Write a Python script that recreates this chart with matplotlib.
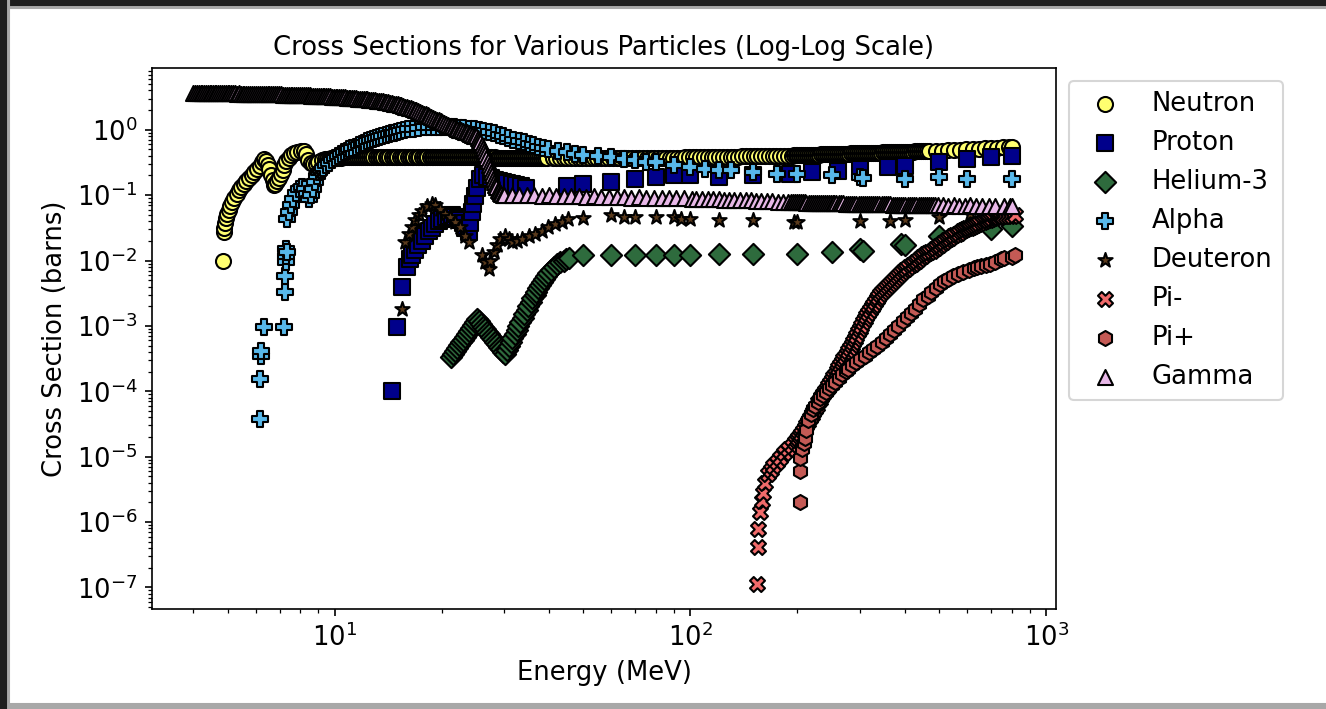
import matplotlib
matplotlib.use("Agg")
import matplotlib.pyplot as plt
from matplotlib.patches import Rectangle

# (energy MeV, cross section barns)
neutron = [
    (4.85, 0.0100), (4.88, 0.027), (4.90, 0.032), (4.92, 0.038), (4.95, 0.045), (4.99, 0.052),
    (5.04, 0.060), (5.09, 0.069), (5.15, 0.080), (5.22, 0.092), (5.30, 0.105), (5.38, 0.118),
    (5.47, 0.132), (5.56, 0.148), (5.65, 0.165), (5.75, 0.183), (5.85, 0.203), (5.95, 0.225),
    (6.05, 0.250), (6.15, 0.280), (6.25, 0.320), (6.32, 0.355), (6.40, 0.330), (6.48, 0.290),
    (6.56, 0.250), (6.63, 0.205), (6.69, 0.170), (6.75, 0.142), (6.82, 0.150), (6.90, 0.165),
    (6.98, 0.185), (7.06, 0.210), (7.14, 0.245), (7.22, 0.285), (7.31, 0.330), (7.42, 0.370),
    (7.55, 0.405), (7.70, 0.435), (7.86, 0.460), (8.02, 0.475), (8.18, 0.480), (8.30, 0.420),
    (8.42, 0.350), (8.56, 0.315), (8.70, 0.300), (8.85, 0.305), (9.00, 0.320), (9.20, 0.340),
    (9.40, 0.355),
    (9.52, 0.358), (9.65, 0.361), (9.78, 0.364), (9.91, 0.367), (10.04, 0.370), (10.17, 0.372),
    (10.30, 0.374), (10.44, 0.376), (10.58, 0.377), (10.72, 0.379), (10.86, 0.380), (11.00, 0.381),
    (11.14, 0.382), (11.29, 0.383), (11.44, 0.384), (11.59, 0.385), (11.74, 0.385), (11.89, 0.386),
    (12.05, 0.386), (12.21, 0.387), (12.37, 0.387), (12.53, 0.388), (12.69, 0.388), (12.86, 0.388),
    (13.03, 0.389), (13.20, 0.389), (13.37, 0.388), (13.54, 0.388), (13.72, 0.388), (13.90, 0.387),
    (14.08, 0.388), (14.26, 0.387), (14.45, 0.387), (14.64, 0.387), (14.83, 0.386), (15.02, 0.386),
    (15.22, 0.387), (15.42, 0.386), (15.62, 0.386), (15.82, 0.385), (16.03, 0.385), (16.24, 0.386),
    (16.45, 0.385), (16.66, 0.385), (16.88, 0.384), (17.10, 0.385), (17.32, 0.384), (17.55, 0.384),
    (17.78, 0.384), (18.01, 0.383), (18.24, 0.384), (18.48, 0.383), (18.72, 0.383), (18.96, 0.382),
    (19.21, 0.383), (19.46, 0.382), (19.71, 0.382), (19.97, 0.382), (20.23, 0.381), (20.49, 0.382),
    (20.76, 0.381), (21.03, 0.381), (21.30, 0.381), (21.58, 0.380), (21.86, 0.381), (22.14, 0.380),
    (22.43, 0.380), (22.72, 0.380), (23.02, 0.379), (23.32, 0.380), (23.62, 0.379), (23.93, 0.379),
    (24.24, 0.379), (24.56, 0.378), (24.88, 0.379), (25.20, 0.378), (25.53, 0.378), (25.86, 0.378),
    (26.20, 0.377), (26.54, 0.378), (26.88, 0.377), (27.23, 0.377), (27.59, 0.377), (27.95, 0.376),
    (28.31, 0.377), (28.68, 0.376), (29.05, 0.376), (29.43, 0.376), (29.81, 0.375), (30.20, 0.376),
    (30.59, 0.375), (30.99, 0.375), (31.39, 0.375), (31.80, 0.374), (32.21, 0.375), (32.63, 0.374),
    (33.06, 0.374), (33.49, 0.374), (33.92, 0.373), (34.36, 0.374), (34.81, 0.373), (35.26, 0.373),
    (35.72, 0.373), (36.18, 0.372), (36.65, 0.373), (37.13, 0.372), (37.61, 0.372), (38.10, 0.372),
    (38.60, 0.371), (39.10, 0.372), (39.61, 0.371),
    (41, 0.371), (42, 0.371), (43, 0.371), (44, 0.370), (45.1, 0.371), (46.2, 0.370), (47.3, 0.370),
    (48.5, 0.370), (49.7, 0.369), (50.9, 0.370), (52.2, 0.369), (53.5, 0.369), (54.8, 0.369),
    (56.2, 0.368), (57.6, 0.369), (59, 0.368), (60.5, 0.368), (62, 0.368), (63.5, 0.368),
    (65.1, 0.368), (66.7, 0.368), (68.4, 0.369), (70.1, 0.369), (71.8, 0.369), (73.6, 0.370),
    (75.4, 0.370), (77.3, 0.371), (79.2, 0.371), (81.2, 0.372), (83.2, 0.372), (85.3, 0.373),
    (87.4, 0.374), (89.6, 0.374), (91.8, 0.375), (94.1, 0.376), (96.5, 0.377), (98.9, 0.377),
    (101.4, 0.378), (103.9, 0.379), (106.5, 0.380), (109.2, 0.381), (111.9, 0.382), (114.7, 0.383),
    (117.6, 0.384), (120.5, 0.385), (123.5, 0.386), (126.6, 0.387), (129.8, 0.388), (133, 0.389),
    (136.3, 0.390), (139.7, 0.391), (143.2, 0.392), (146.8, 0.393), (150.5, 0.394), (154.3, 0.395),
    (158.1, 0.396), (162.1, 0.397), (166.1, 0.398), (170.3, 0.399), (174.5, 0.400), (178.9, 0.401),
    (183.4, 0.402), (188, 0.403),
    (192.5, 0.404), (195, 0.405), (197.5, 0.406), (200, 0.407), (202.6, 0.408), (205.2, 0.409),
    (207.8, 0.410), (210.5, 0.411), (213.2, 0.412), (216, 0.413), (218.8, 0.414), (221.6, 0.415),
    (224.5, 0.416), (227.4, 0.417), (230.3, 0.418), (233.3, 0.419), (236.3, 0.420), (239.4, 0.421),
    (242.5, 0.422), (245.6, 0.423), (248.8, 0.424), (252, 0.425), (255.3, 0.426), (258.6, 0.427),
    (261.9, 0.428), (265.3, 0.429), (268.7, 0.430), (272.2, 0.431), (275.7, 0.432), (279.3, 0.433),
    (282.9, 0.434), (286.6, 0.435), (290.3, 0.436), (294.1, 0.437), (297.9, 0.438), (301.8, 0.439),
    (305.7, 0.440), (309.7, 0.441), (313.7, 0.442), (317.8, 0.443), (321.9, 0.444), (326.1, 0.445),
    (330.3, 0.446), (334.6, 0.447), (338.9, 0.448), (343.3, 0.449), (347.8, 0.450), (352.3, 0.451),
    (356.9, 0.452), (361.5, 0.453), (366.2, 0.454), (370.9, 0.455), (375.7, 0.456), (380.6, 0.457),
    (385.5, 0.458), (390.5, 0.459), (395.6, 0.460), (400.7, 0.461), (405.9, 0.462), (411.2, 0.463),
    (416.5, 0.464), (421.9, 0.465), (427.4, 0.466), (432.9, 0.467), (438.5, 0.468), (444.2, 0.469),
    (450, 0.470), (455.8, 0.471), (461.7, 0.472), (467.7, 0.473),
    (490, 0.477), (510, 0.482), (530, 0.487), (552, 0.492), (574, 0.497), (597, 0.502),
    (621, 0.507), (646, 0.512), (672, 0.518), (699, 0.524), (727, 0.530), (756, 0.537),
    (786, 0.545), (800, 0.550),
]

proton = [
    (14.49, 1.02e-4), (14.96, 9.5e-4), (15.45, 3.9e-3), (15.96, 7.9e-3), (16.3, 0.0105),
    (16.5, 0.012), (16.8, 0.0145), (17.2, 0.017), (17.55, 0.020), (17.98, 0.024), (18.4, 0.028),
    (18.77, 0.032), (19.2, 0.036), (19.6, 0.040), (20.02, 0.043), (20.5, 0.046), (20.9, 0.048),
    (21.36, 0.049), (21.8, 0.047), (22.2, 0.044), (22.54, 0.041), (22.9, 0.037), (23.3, 0.032),
    (23.79, 0.027), (24.05, 0.038), (24.3, 0.055), (24.55, 0.074), (24.84, 0.098), (25.2, 0.130),
    (25.66, 0.178), (26.2, 0.200), (26.8, 0.190), (27.5, 0.180), (28.3, 0.170), (29.0, 0.165),
    (29.8, 0.160), (30.6, 0.155), (31.5, 0.150), (32.4, 0.145), (33.4, 0.140), (34.4, 0.130),
    (45, 0.140), (50, 0.149), (60, 0.158), (70, 0.178), (80, 0.189), (90, 0.200), (100, 0.200),
    (120, 0.189), (150, 0.200), (190, 0.212), (220, 0.225), (260, 0.238), (300, 0.253),
    (360, 0.268), (400, 0.284), (500, 0.320), (600, 0.360), (700, 0.380), (800, 0.400),
]

helium3 = [
    (21.18, 3.34e-4), (21.45, 3.70e-4), (21.73, 4.10e-4), (22.01, 4.56e-4), (22.30, 5.05e-4),
    (22.59, 5.59e-4), (22.88, 6.19e-4), (23.18, 6.88e-4), (23.49, 7.62e-4), (23.79, 8.44e-4),
    (24.10, 9.35e-4), (24.42, 1.04e-3), (24.73, 1.15e-3), (25.06, 1.28e-3),
    (25.38, 1.17e-3), (25.71, 1.07e-3), (26.05, 9.79e-4), (26.39, 8.97e-4), (26.73, 8.21e-4),
    (27.08, 7.52e-4), (27.43, 6.88e-4), (27.79, 6.30e-4), (28.15, 5.77e-4), (28.52, 5.28e-4),
    (28.89, 4.84e-4), (29.27, 4.43e-4), (29.65, 4.06e-4), (30.03, 3.71e-4),
    (30.42, 4.27e-4), (30.82, 4.92e-4), (31.22, 5.67e-4), (31.62, 6.53e-4), (32.04, 7.52e-4),
    (32.45, 8.65e-4), (32.87, 9.97e-4), (33.30, 1.15e-3), (33.74, 1.32e-3), (34.17, 1.52e-3),
    (34.62, 1.75e-3), (35.07, 2.02e-3), (35.53, 2.32e-3), (35.99, 2.63e-3), (36.46, 2.97e-3),
    (36.93, 3.36e-3), (37.41, 3.81e-3), (37.90, 4.23e-3), (38.39, 4.70e-3), (38.89, 5.23e-3),
    (39.40, 5.81e-3), (39.91, 6.46e-3), (40.69, 7.18e-3), (41.49, 7.98e-3), (42.31, 8.71e-3),
    (43.14, 9.36e-3), (43.99, 9.86e-3), (44.84, 0.0104), (45.72, 0.0110),
    (50, 0.0120), (60, 0.0120), (70, 0.0120), (80, 0.0120), (90, 0.0120), (100, 0.0120),
    (120, 0.0126), (150, 0.0126), (200, 0.0126), (250, 0.0134), (300, 0.0151), (305, 0.0142),
    (390, 0.0180), (400, 0.0170), (500, 0.0240), (700, 0.0305), (800, 0.0340),
]

alpha = [
    (6.18, 3.75e-5), (6.18, 1.54e-4), (6.19, 3.5e-4), (6.19, 4.1e-4), (6.32, 9.5e-4),
    (7.19, 9.5e-4), (7.24, 3.27e-3), (7.27, 5.9e-3), (7.32, 0.0095), (7.32, 0.0119),
    (7.32, 0.0151), (7.33, 0.0135),
    (7.35, 0.043), (7.43, 0.055), (7.52, 0.071), (7.62, 0.088), (7.77, 0.108), (7.92, 0.125),
    (8.08, 0.134), (8.24, 0.125), (8.34, 0.105), (8.45, 0.088), (8.56, 0.101), (8.67, 0.125),
    (8.79, 0.160), (8.90, 0.198), (9.02, 0.228), (9.13, 0.245), (9.25, 0.262), (9.43, 0.285),
    (9.62, 0.310), (9.80, 0.340), (10.0, 0.370), (10.2, 0.400), (10.4, 0.430), (10.6, 0.455),
    (10.8, 0.480), (11.0, 0.500), (11.2, 0.525), (11.45, 0.555), (11.7, 0.585), (11.9, 0.610),
    (12.1, 0.635), (12.35, 0.670), (12.6, 0.700), (12.85, 0.725), (13.1, 0.750), (13.35, 0.775),
    (13.6, 0.800), (13.9, 0.830), (14.2, 0.860), (14.45, 0.880), (14.7, 0.905), (15.0, 0.930),
    (15.3, 0.960), (15.7, 0.990), (16.1, 1.020), (16.6, 1.040), (17.2, 1.060), (17.8, 1.090),
    (18.4, 1.110), (19.0, 1.110), (19.6, 1.110), (20.2, 1.110), (20.9, 1.110), (21.6, 1.090),
    (22.3, 1.070), (23.0, 1.050), (23.8, 1.036), (24.6, 1.020), (25.4, 1.000), (26.2, 0.970),
    (27.1, 0.930), (28.0, 0.890), (28.9, 0.840), (29.8, 0.800), (30.8, 0.754), (31.8, 0.710),
    (32.9, 0.678), (34.0, 0.640), (35.1, 0.610), (36.2, 0.580), (37.4, 0.550), (38.6, 0.530),
    (39.9, 0.510),
    (42.5, 0.470), (45, 0.450), (47.5, 0.430), (50, 0.410), (55, 0.400), (60, 0.380),
    (65, 0.360), (70, 0.340), (75, 0.320), (80, 0.320), (90, 0.290), (100, 0.270),
    (110, 0.255), (120, 0.240), (130, 0.240), (150, 0.225), (175, 0.210), (200, 0.210),
    (250, 0.200), (300, 0.190), (305, 0.185), (400, 0.178), (500, 0.190), (600, 0.178),
    (800, 0.178),
]

deuteron = [
    (15.45, 1.8e-3), (15.80, 0.019), (16.14, 0.0255), (16.49, 0.0324), (16.86, 0.041),
    (17.21, 0.049), (17.59, 0.058), (18.17, 0.069), (18.77, 0.074), (19.18, 0.071),
    (19.81, 0.062), (20.46, 0.052), (21.13, 0.046), (21.83, 0.039), (22.54, 0.0324),
    (23.28, 0.024), (23.79, 0.019),
    (25.93, 0.012), (26.50, 0.0094), (27.08, 0.0075), (27.38, 0.010), (27.97, 0.0134),
    (28.58, 0.017), (29.20, 0.0215), (30.17, 0.024), (30.82, 0.0215), (31.49, 0.019),
    (32.52, 0.0202), (33.58, 0.0215), (35.08, 0.024), (36.64, 0.0255), (38.22, 0.0288),
    (39.90, 0.0324), (41.70, 0.0364), (43.50, 0.0395), (45.40, 0.043),
    (50, 0.044), (60, 0.049), (65, 0.046), (70, 0.046), (80, 0.046), (90, 0.046), (94, 0.043),
    (100, 0.043), (120, 0.041), (150, 0.041), (195, 0.039), (200, 0.039), (300, 0.040),
    (365, 0.040), (400, 0.042), (500, 0.047), (610, 0.052),
]

pi_minus = [
    (153.6, 1.11e-7), (154.5, 4.1e-7), (155.2, 7.8e-7), (156.9, 1.4e-6), (158.6, 2.1e-6),
    (160.4, 2.8e-6), (162.1, 4.0e-6), (165.6, 5.5e-6), (168.0, 6.3e-6), (171.1, 7.2e-6),
    (175.0, 8.4e-6), (178.6, 9.6e-6), (183.0, 1.12e-5), (188.5, 1.3e-5), (193.0, 1.48e-5),
    (196.9, 1.65e-5), (199, 1.78e-5), (201, 1.9e-5), (203, 2.05e-5), (205, 2.2e-5),
    (207.3, 2.48e-5), (209.6, 2.78e-5), (212, 3.08e-5), (214.5, 3.4e-5), (216.8, 3.85e-5),
    (219.2, 4.35e-5), (221.6, 4.85e-5), (224, 5.4e-5), (226.3, 6.05e-5), (228.6, 6.75e-5),
    (231, 7.45e-5), (233.3, 8.2e-5), (236, 9.1e-5), (238.7, 1.0e-4), (241.4, 1.1e-4),
    (244.1, 1.2e-4), (246.8, 1.33e-4), (249.5, 1.48e-4), (252.2, 1.63e-4), (255, 1.8e-4),
    (257.8, 2.02e-4), (260.5, 2.25e-4), (263.3, 2.52e-4), (266.1, 2.8e-4), (269, 3.1e-4),
    (272, 3.4e-4), (274.9, 3.75e-4), (277.8, 4.1e-4), (280.9, 4.6e-4), (284, 5.1e-4),
    (287, 5.7e-4), (290.1, 6.3e-4), (293, 7.1e-4), (296, 8.0e-4), (299.1, 9.0e-4),
    (302.2, 1.0e-3), (305.6, 1.14e-3), (309, 1.28e-3), (312.6, 1.44e-3), (316.2, 1.6e-3),
    (319.6, 1.78e-3), (323, 1.95e-3), (326.6, 2.12e-3), (330.2, 2.3e-3), (333.6, 2.55e-3),
    (337, 2.8e-3), (340.8, 3.05e-3), (344.6, 3.3e-3), (349.3, 3.57e-3), (354, 3.85e-3),
    (359, 4.12e-3), (363.9, 4.4e-3), (369, 4.75e-3), (374, 5.1e-3), (379, 5.5e-3),
    (384, 5.9e-3), (389, 6.3e-3), (394, 6.7e-3), (399.2, 7.1e-3), (404.4, 7.5e-3),
    (410.2, 7.95e-3), (416, 8.4e-3), (421.9, 8.9e-3), (427.8, 9.4e-3), (433.6, 0.0100),
    (439.5, 0.0106), (445.4, 0.0112), (451.3, 0.0118), (457.4, 0.0124), (463.5, 0.0130),
    (469.8, 0.0136), (476.2, 0.0142), (482.6, 0.0150), (489, 0.0158), (495.9, 0.0166),
    (502.8, 0.0175), (509.6, 0.0185), (516.5, 0.0195), (523.5, 0.0205), (530.5, 0.0215),
    (537.7, 0.0225), (545, 0.0235), (552.4, 0.0245), (559.8, 0.0255), (567.4, 0.0267),
    (575, 0.0280), (583, 0.0292), (591, 0.0305), (599, 0.0312), (607, 0.0320), (615.3, 0.0330),
    (623.7, 0.0340), (632.2, 0.0352), (640.7, 0.0365), (649.4, 0.0378), (658.1, 0.0390),
    (667, 0.0400), (676, 0.0410), (685.5, 0.0420), (695, 0.0430), (706, 0.0445),
    (717.8, 0.0460), (727, 0.0465), (737, 0.0470), (747, 0.0475), (757.2, 0.0480),
    (771, 0.0480), (786, 0.0482), (800, 0.0485), (816.6, 0.0490),
]

pi_plus = [
    (203.3, 2.0e-6), (203.3, 6.1e-6), (203.3, 9.7e-6), (205.5, 1.3e-5), (208.0, 1.6e-5),
    (210.0, 1.9e-5), (212.0, 2.6e-5), (214.5, 3.6e-5), (218.0, 4.5e-5), (221.0, 5.3e-5),
    (224.0, 5.9e-5), (228.0, 6.9e-5), (232.0, 7.9e-5), (236.0, 8.8e-5), (240.0, 9.7e-5),
    (245.0, 1.12e-4), (250.0, 1.25e-4), (255.0, 1.40e-4), (261.0, 1.62e-4), (267.0, 1.85e-4),
    (273.0, 2.05e-4), (278.0, 2.2e-4), (285.0, 2.5e-4), (292.0, 2.8e-4), (300.0, 3.1e-4),
    (309.0, 3.5e-4), (317.0, 3.95e-4), (326.0, 4.5e-4), (335.0, 5.0e-4), (345.0, 5.6e-4),
    (354.0, 6.5e-4), (364.0, 7.6e-4), (374.0, 8.8e-4), (384.0, 1.0e-3), (395.0, 1.18e-3),
    (405.0, 1.38e-3), (416.0, 1.58e-3), (428.0, 1.8e-3), (440.0, 2.15e-3), (452.0, 2.55e-3),
    (464.0, 2.9e-3), (476.0, 3.3e-3), (489.0, 3.85e-3), (502.0, 4.4e-3), (516.0, 4.85e-3),
    (530.0, 5.25e-3), (548.0, 5.9e-3), (566.0, 6.3e-3), (585.0, 6.7e-3), (605.0, 7.2e-3),
    (625.0, 7.6e-3), (641.0, 7.9e-3), (658.0, 8.2e-3), (676.0, 8.6e-3), (695.0, 9.0e-3),
    (718.0, 9.4e-3), (745.0, 0.0105), (760.0, 0.0108), (800.0, 0.0115), (817.0, 0.0120),
]

gamma = [
    (4.00, 3.70), (4.05, 3.69), (4.10, 3.71), (4.15, 3.70), (4.20, 3.68), (4.25, 3.69),
    (4.30, 3.67), (4.35, 3.68), (4.40, 3.66), (4.45, 3.67), (4.50, 3.66), (4.55, 3.65),
    (4.60, 3.66), (4.65, 3.64), (4.70, 3.65), (4.76, 3.63), (4.82, 3.64), (4.88, 3.62),
    (4.94, 3.63), (5.00, 3.62), (5.06, 3.61), (5.12, 3.62), (5.18, 3.60), (5.24, 3.61),
    (5.30, 3.59), (5.37, 3.60), (5.44, 3.58), (5.51, 3.59), (5.58, 3.57), (5.65, 3.58),
    (5.72, 3.56), (5.79, 3.57), (5.86, 3.55), (5.93, 3.56), (6.00, 3.54), (6.08, 3.55),
    (6.16, 3.53), (6.24, 3.54), (6.32, 3.52), (6.40, 3.52), (6.48, 3.51), (6.56, 3.51),
    (6.64, 3.50), (6.72, 3.50), (6.80, 3.49), (6.89, 3.48), (6.98, 3.48), (7.07, 3.47),
    (7.16, 3.46), (7.25, 3.46), (7.34, 3.45), (7.43, 3.44), (7.52, 3.44), (7.61, 3.43),
    (7.70, 3.42), (7.80, 3.41), (7.90, 3.41), (8.00, 3.40), (8.10, 3.39), (8.20, 3.38),
    (8.30, 3.37), (8.40, 3.36), (8.50, 3.35), (8.60, 3.34), (8.70, 3.33), (8.81, 3.32),
    (8.92, 3.31), (9.03, 3.30), (9.14, 3.29), (9.25, 3.28), (9.36, 3.27), (9.47, 3.26),
    (9.58, 3.25), (9.70, 3.24), (9.82, 3.22), (9.94, 3.21), (10.06, 3.20), (10.18, 3.18),
    (10.30, 3.16), (10.43, 3.15), (10.56, 3.13), (10.69, 3.12), (10.82, 3.10), (10.95, 3.09),
    (11.08, 3.07), (11.22, 3.06), (11.36, 3.04), (11.50, 3.02), (11.64, 3.01), (11.78, 2.99),
    (11.92, 2.97), (12.07, 2.95), (12.22, 2.93), (12.37, 2.91), (12.52, 2.89), (12.67, 2.87),
    (12.83, 2.85), (12.99, 2.83), (13.15, 2.80), (13.31, 2.78), (13.47, 2.75), (13.64, 2.72),
    (13.81, 2.69), (13.98, 2.66), (14.15, 2.63), (14.32, 2.60), (14.50, 2.56), (14.68, 2.52),
    (14.86, 2.49), (15.04, 2.45), (15.22, 2.41), (15.41, 2.36), (15.60, 2.32), (15.79, 2.27),
    (15.98, 2.23), (16.17, 2.18), (16.37, 2.13), (16.57, 2.08), (16.77, 2.03), (16.97, 1.98),
    (17.18, 1.93), (17.39, 1.87), (17.60, 1.82), (17.81, 1.77), (18.03, 1.72), (18.25, 1.67),
    (18.47, 1.62), (18.69, 1.57), (18.92, 1.52), (19.15, 1.48), (19.38, 1.43), (19.62, 1.39),
    (19.86, 1.35), (20.10, 1.31), (20.34, 1.27), (20.59, 1.23), (20.84, 1.20), (21.09, 1.16),
    (21.35, 1.13), (21.61, 1.10), (21.87, 1.07), (22.14, 1.04), (22.41, 1.01), (22.68, 0.99),
    (22.95, 0.96), (23.23, 0.94), (23.51, 0.91), (23.80, 0.89), (24.09, 0.86), (24.38, 0.84),
    (24.68, 0.81), (24.98, 0.79), (25.28, 0.76),
    (25.5, 0.71), (25.7, 0.65), (25.9, 0.59), (26.1, 0.53), (26.3, 0.47), (26.5, 0.42),
    (26.7, 0.37), (26.9, 0.33), (27.1, 0.29), (27.3, 0.26), (27.5, 0.23), (27.7, 0.20),
    (27.9, 0.178), (28.1, 0.160), (28.3, 0.145), (28.5, 0.132), (28.7, 0.122), (28.9, 0.114),
    (29.1, 0.108), (29.4, 0.104), (29.7, 0.101), (30.0, 0.100),
    (31.5, 0.100), (33, 0.101), (34.7, 0.099), (36.4, 0.100), (38.2, 0.098), (40, 0.099),
    (42, 0.097), (44, 0.098), (46.3, 0.096), (48.6, 0.097), (51, 0.095), (53.5, 0.096),
    (56, 0.094), (59, 0.095), (62, 0.093), (65, 0.094), (68, 0.092), (71.5, 0.093),
    (75, 0.091), (79, 0.092), (83, 0.090), (87, 0.091), (91, 0.089), (96, 0.090), (101, 0.088),
    (104, 0.088), (108, 0.087), (112, 0.087), (116, 0.086), (120, 0.086), (124, 0.085),
    (128, 0.085), (133, 0.084), (138, 0.084), (143, 0.083), (148, 0.083), (153, 0.082),
    (158, 0.082), (164, 0.081), (170, 0.081), (176, 0.080), (182, 0.080), (188, 0.079),
    (192, 0.079), (194.5, 0.079), (197, 0.079), (199.5, 0.078), (202, 0.078), (204.5, 0.078),
    (207, 0.078), (209.5, 0.078), (212, 0.077), (215, 0.077), (218, 0.077), (221, 0.077),
    (224, 0.077), (227, 0.077), (230, 0.076), (233, 0.076), (236, 0.076), (239, 0.076),
    (242, 0.076), (245, 0.076), (248, 0.075), (251, 0.075), (254, 0.075), (257, 0.075),
    (261, 0.075), (265, 0.075), (269, 0.075), (273, 0.074), (277, 0.074), (281, 0.074),
    (285, 0.074), (289, 0.074), (293, 0.074), (297, 0.074), (301, 0.073), (305, 0.073),
    (309, 0.073), (313, 0.073), (317, 0.073), (321, 0.073), (325, 0.073), (330, 0.072),
    (335, 0.072), (340, 0.072), (345, 0.072), (350, 0.072), (355, 0.072), (360, 0.072),
    (365, 0.072), (370, 0.071), (375, 0.071), (380, 0.071), (385, 0.071), (390, 0.071),
    (396, 0.071), (402, 0.071), (408, 0.071), (414, 0.071), (420, 0.070), (426, 0.070),
    (432, 0.070), (438, 0.070), (444, 0.070), (450, 0.070), (456, 0.070), (462, 0.070),
    (468, 0.070), (474, 0.070), (481, 0.070), (488, 0.070), (495, 0.070),
    (513, 0.070), (531, 0.069), (550, 0.070), (570, 0.069), (590, 0.069), (611, 0.070),
    (633, 0.069), (660, 0.069), (690, 0.068), (720, 0.069), (760, 0.068), (790, 0.069),
    (800, 0.068),
]

labels = ['Neutron', 'Proton', 'Helium-3', 'Alpha', 'Deuteron', 'Pi-', 'Pi+', 'Gamma']
markers = ['o', 's', 'D', 'P', '*', 'X', 'h', '^']
colors = ['#ffff70', '#00008b', '#2e6b3d', '#58b8ea', '#5a3a1c', '#f06a6a', '#c45a55', '#e8b8e8']
data = [neutron, proton, helium3, alpha, deuteron, pi_minus, pi_plus, gamma]

plt.rcParams['font.size'] = 12.4

fig = plt.figure(figsize=(8.84, 4.7267), dpi=150)
ax = fig.add_axes([0.1146, 0.1410, 0.6818, 0.7631])

for pts, lab, mk, col in zip(data, labels, markers, colors):
    e, xs = zip(*pts)
    ax.scatter(e, xs, marker=mk, c=col, edgecolors='black', s=52, linewidths=1.0, label=lab)

ax.set_xscale('log')
ax.set_yscale('log')
ax.set_title('Cross Sections for Various Particles (Log-Log Scale)', fontsize=12.4)
ax.set_xlabel('Energy (MeV)', fontsize=12.4)
ax.set_ylabel('Cross Section (barns)', fontsize=12.4)
ax.legend(loc='upper left', bbox_to_anchor=(1, 1))

# screenshot frame around the figure
W, H = 1326, 709
def frame(x, y, w, h, col):
    fig.patches.append(Rectangle((x / W, 1 - (y + h) / H), w / W, h / H,
                                 transform=fig.transFigure, color=col, zorder=10))

frame(0, 0, W, 8, '#a8a8a8')
frame(0, 0, W, 5, '#1e1e1e')
frame(0, 704, W, 5, '#a8a8a8')
frame(0, 0, 9, H, '#a8a8a8')
frame(0, 0, 6, H, '#1e1e1e')

fig.savefig('out.png', dpi=150)
